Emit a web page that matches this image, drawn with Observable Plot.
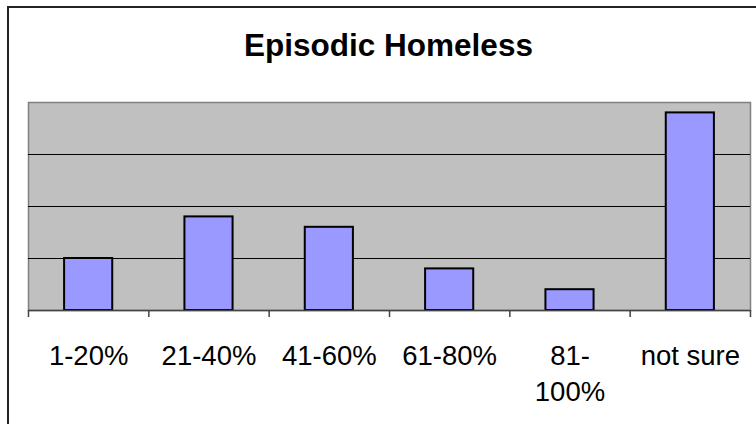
<!DOCTYPE html>
<html>
<head>
<meta charset="utf-8">
<script src="https://cdn.jsdelivr.net/npm/d3@7"></script>
<script src="https://cdn.jsdelivr.net/npm/@observablehq/plot@0.6"></script>
<style>
  html, body { margin: 0; padding: 0; background: #fff; }
  #wrap { position: relative; width: 756px; height: 424px; overflow: hidden; font-family: "Liberation Sans", Arial, sans-serif; }
  #border { position: absolute; left: 7px; top: 6px; width: 760px; height: 430px; border-left: 2px solid #222; border-top: 2px solid #222; box-sizing: border-box; }
  #title { position: absolute; left: 21px; width: 735px; top: 26px; text-align: center; font-weight: bold; font-size: 31.5px; line-height: 38px; color: #000; }
  #chart { position: absolute; left: 0; top: 0; }
</style>
</head>
<body>
<div id="wrap">
  <div id="chart"></div>
  <div id="border"></div>
  <div id="title">Episodic Homeless</div>
</div>
<script>
const categories = ["1-20%", "21-40%", "41-60%", "61-80%", "81-\n100%", "not sure"];
const values = [5, 9, 8, 4, 2, 19];
const gridValues = [5, 10, 15];
const yDomain = [0, 20];

const data = categories.map((c, i) => ({category: c, index: i, value: values[i]}));
const boundaries = d3.range(categories.length + 1);

const chart = Plot.plot({
  width: 756,
  height: 424,
  marginTop: 102,
  marginBottom: 114,
  marginLeft: 28,
  marginRight: 6,
  style: {fontFamily: "Liberation Sans, Arial, sans-serif", background: "transparent"},
  x: {type: "linear", domain: [0, categories.length], axis: null},
  y: {type: "linear", domain: yDomain, axis: null},
  marks: [
    Plot.frame({fill: "#c0c0c0", stroke: "#808080", strokeWidth: 1.5}),
    Plot.ruleY(gridValues, {stroke: "#000", strokeWidth: 1}),
    Plot.rectY(data, {
      x1: d => d.index + 0.3,
      x2: d => d.index + 0.7,
      y1: 0,
      y2: "value",
      fill: "#9999ff",
      stroke: "#000",
      strokeWidth: 2
    }),
    Plot.ruleY([0], {stroke: "#444", strokeWidth: 1.5}),
    Plot.ruleX(boundaries, {x: d => d, y1: 0, y2: 0, insetBottom: -7, stroke: "#444", strokeWidth: 1.5}),
    Plot.text(data, {
      x: d => d.index + 0.5,
      y: 0,
      text: "category",
      lineAnchor: "top",
      dy: 29,
      fontSize: 27.5,
      lineHeight: 1.31,
      fill: "#000"
    })
  ]
});
document.getElementById("chart").appendChild(chart);
</script>
</body>
</html>
